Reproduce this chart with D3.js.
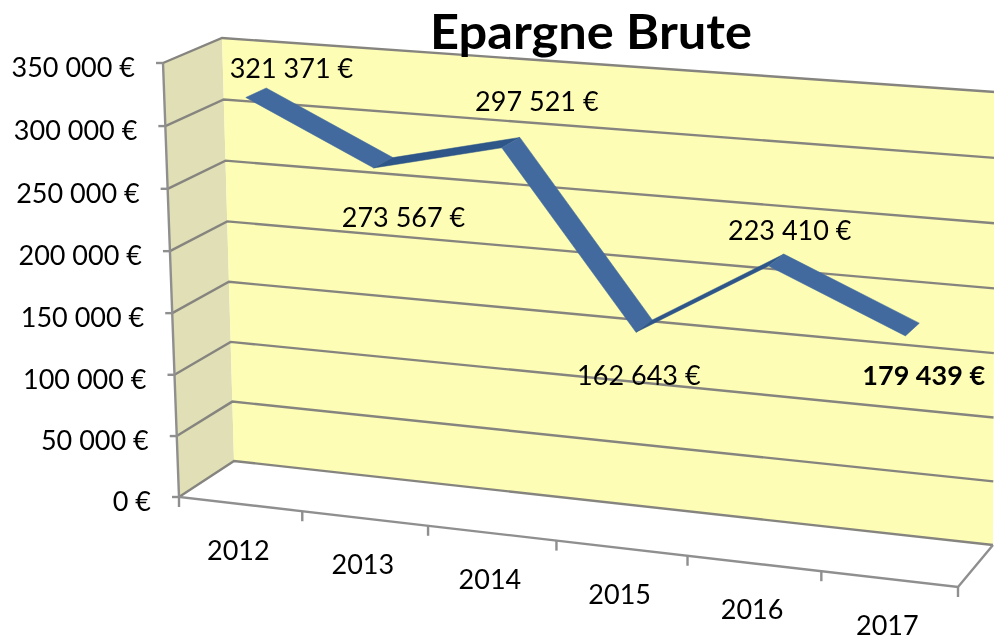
<!DOCTYPE html>
<html><head><meta charset="utf-8">
<script src="https://cdnjs.cloudflare.com/ajax/libs/d3/7.8.5/d3.min.js"></script>
<style>html,body{margin:0;padding:0;background:#fff;overflow:hidden}svg{display:block}text{font-family:Lato,sans-serif;fill:#000}</style>
</head><body><svg id="c" width="994" height="636"></svg>
<script>
const categories = ["2012","2013","2014","2015","2016","2017"];
const values = [321371,273567,297521,162643,223410,179439];
const valueTicks = [0,50000,100000,150000,200000,250000,300000,350000];
const title = "Epargne Brute";
const highlighted = "2017";

// Projected corners of the 3D box: [category end][value end][depth end]
const corners = {
  "000":[179,497],"010":[163,63],"001":[234,461],"011":[222,38],
  "100":[958,587],"110":[956,122],"101":[993,545],"111":[995,92]
};
const a=0.94, b=0.98;
const labelOffset = {"2012":[32,-22],"2013":[17,57],"2014":[23,-39],"2015":[-8,52],"2016":[11,-27],"2017":[9,49]};

const svg=d3.select("#c");
const defs=svg.append("defs");
defs.append("filter").attr("id","soft").append("feGaussianBlur").attr("stdDeviation",0.7);
defs.append("filter").attr("id","softText").append("feGaussianBlur").attr("stdDeviation",0.3);

const uPoint=d3.scalePoint().domain(categories).range([0.089,0.926]);
const uTick=d3.scaleLinear().domain([0,categories.length]).range([0,1]);
const vScale=d3.scaleLinear().domain([0,350000]).range([0,1]);
const warp=u=>a*u/(1+(a-1)*u);
const warpV=v=>b*v/(1+(b-1)*v);
function project(u,v0,d){
  const t=warp(u),v=warpV(v0),c=k=>corners[k];
  return [0,1].map(i=>
    (1-t)*((1-v)*((1-d)*c("000")[i]+d*c("001")[i])+v*((1-d)*c("010")[i]+d*c("011")[i]))
    +t*((1-v)*((1-d)*c("100")[i]+d*c("101")[i])+v*((1-d)*c("110")[i]+d*c("111")[i])));
}
const line=d3.line();
const loc=d3.formatLocale({decimal:",",thousands:" ",grouping:[3],currency:["","\u00a0€"]});
const fmt=v=>loc.format(",")(v)+" €";

// walls
const g=svg.append("g").attr("filter","url(#soft)");
const poly=pts=>line(pts)+"Z";
g.append("path").attr("d",poly([project(0,1,0),project(0,1,1),project(0,0,1),project(0,0,0)])).attr("fill","#e0dfb6");
g.append("path").attr("d",poly([project(0,1,1),project(1,1,1),project(1,0,1),project(0,0,1)])).attr("fill","#fefdb6");

// gridlines
g.selectAll("path.grid").data(valueTicks).join("path").attr("class","grid")
 .attr("d",v=>line([project(0,vScale(v),0),project(0,vScale(v),1),project(1,vScale(v),1)]))
 .attr("fill","none").attr("stroke","#86847f").attr("stroke-width",2.4);
// axis frame
const axisColor="#8f8f8f";
g.append("path").attr("d",line([project(0,1,0),project(0,0,0),project(1,0,0),project(1,0,1)])).attr("fill","none").attr("stroke",axisColor).attr("stroke-width",2.4);
g.selectAll("path.ytick").data(valueTicks).join("path").attr("class","ytick")
 .attr("d",v=>{const p=project(0,vScale(v),0);return line([[p[0]-7,p[1]],p]);}).attr("fill","none").attr("stroke",axisColor).attr("stroke-width",2.4);
g.selectAll("path.xtick").data(d3.range(categories.length+1)).join("path").attr("class","xtick")
 .attr("d",i=>{const p=project(uTick(i),0,0);return line([p,[p[0],p[1]+10]]);}).attr("fill","none").attr("stroke",axisColor).attr("stroke-width",2.4);

// ribbon
const d0=0.26,d1=0.62;
const rib=categories.map((c,i)=>({c,v:values[i],u:uPoint(c),w:vScale(values[i])}));
g.selectAll("path.rib").data(d3.pairs(rib)).join("path").attr("class","rib")
 .attr("d",([p,q])=>poly([project(p.u,p.w,d0),project(q.u,q.w,d0),project(q.u,q.w,d1),project(p.u,p.w,d1)]))
 .attr("fill",([p,q])=>q.v>p.v?"#2f5688":"#426b9f")
 .attr("stroke",([p,q])=>q.v>p.v?"#2f5688":"#426b9f").attr("stroke-width",0.5);

const tg=svg.append("g").attr("filter","url(#softText)");
// y labels
tg.selectAll("text.yl").data(valueTicks).join("text").attr("class","yl")
 .attr("x",v=>project(0,vScale(v),0)[0]-28).attr("y",v=>project(0,vScale(v),0)[1]+14)
 .attr("text-anchor","end").attr("font-size",27).text(fmt);
// x labels
tg.selectAll("text.xl").data(categories).join("text").attr("class","xl")
 .attr("x",(c,i)=>project(uTick(i+0.5),0,0)[0]-2).attr("y",(c,i)=>project(uTick(i+0.5),0,0)[1]+56)
 .attr("text-anchor","middle").attr("font-size",27).text(c=>c);
// value labels
tg.selectAll("text.vl").data(rib).join("text").attr("class","vl")
 .attr("x",d=>project(d.u,d.w,0.5)[0]+labelOffset[d.c][0]).attr("y",d=>project(d.u,d.w,0.5)[1]+labelOffset[d.c][1]+9)
 .attr("text-anchor","middle").attr("font-size",27).attr("font-weight",d=>d.c===highlighted?700:400).text(d=>fmt(d.v));
// title
tg.append("text").attr("x",591).attr("y",49).attr("text-anchor","middle").attr("font-size",48).attr("font-weight",700)
 .attr("textLength",322).attr("lengthAdjust","spacingAndGlyphs").text(title);
</script></body></html>
